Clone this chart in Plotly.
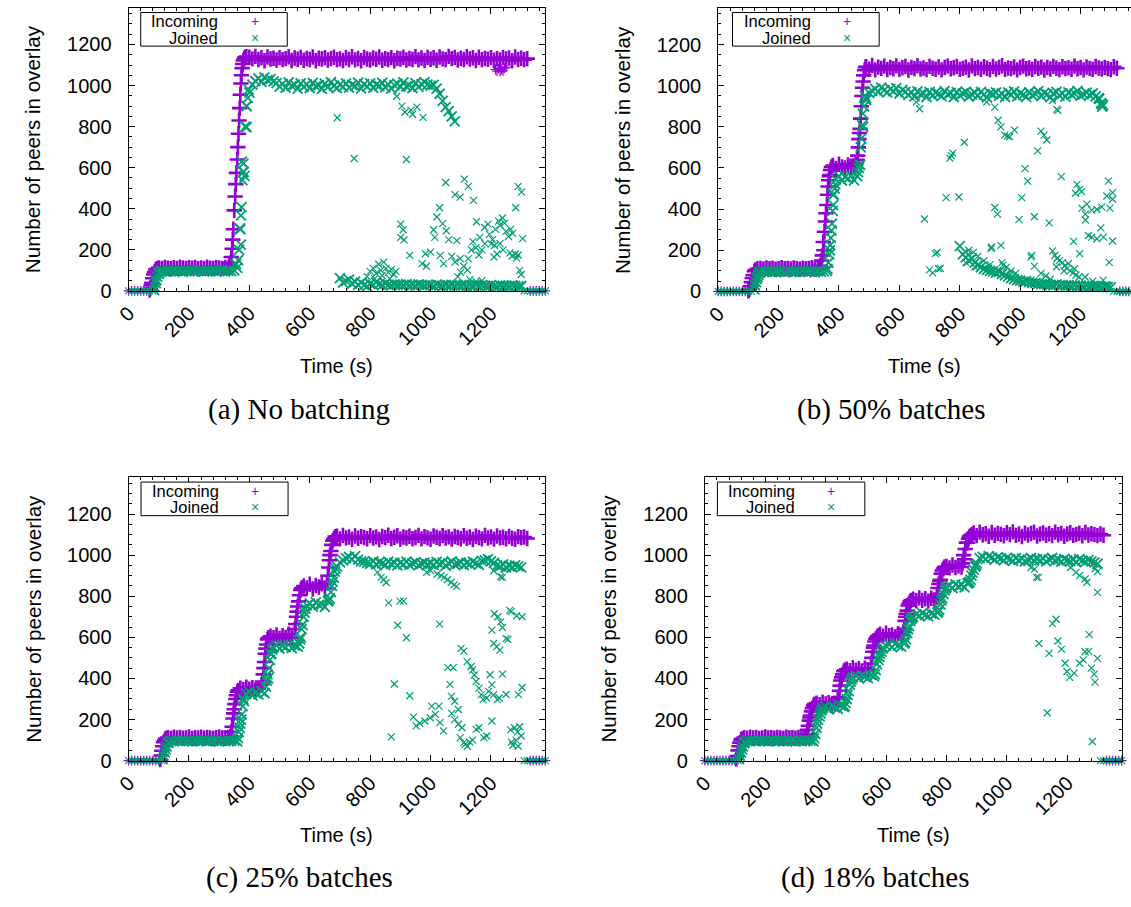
import plotly.graph_objects as go

# ---------------------------------------------------------------------------
# Sampling clock (s) of the overlay-size probes
t_grid = list(range(0, 1390, 10))

# ---------------------------- (a) No batching ------------------------------
inc_a = ([0, 0, 0, 0, 0, 0, 0, 4, 62, 104]
         + [112, 109, 114, 111, 108, 113, 110, 115, 112, 109, 113, 111, 114, 108, 112, 110,
            115, 111, 109, 113, 112, 110, 114, 111]
         + [165, 392, 640, 955, 1122, 1141]
         + [1138, 1130, 1142, 1127, 1135, 1121, 1139, 1129, 1133, 1124,
            1136, 1126, 1131, 1140, 1122, 1134, 1128, 1137, 1123, 1132,
            1127, 1139, 1121, 1133, 1129, 1136, 1124, 1131, 1138, 1126,
            1130, 1122, 1135, 1127, 1140, 1125, 1132, 1121, 1137, 1129,
            1124, 1134, 1128, 1139, 1123, 1131, 1126, 1136, 1121, 1133,
            1129, 1138, 1124, 1132, 1127, 1141, 1125, 1134, 1122, 1137,
            1128, 1135, 1123, 1139, 1130, 1126, 1142, 1131, 1137, 1124,
            1133, 1127, 1140, 1129, 1135, 1122, 1138, 1126, 1132, 1128,
            1136, 1123, 1131, 1125, 1137, 1129, 1134, 1121, 1139, 1127,
            1133, 1126, 1131]
         + [0, 0, 0, 0, 0, 0])
inc_a_ramp_t = [72, 75, 77, 83, 86, 95, 333, 336, 343, 345, 347, 353, 355, 357, 362, 364,
                366, 368, 372, 374, 376, 378, 383, 386]
inc_a_ramp_n = [14, 28, 40, 80, 92, 108, 122, 135, 205, 250, 300, 460, 520, 575, 700, 765,
                830, 890, 1010, 1050, 1085, 1105, 1132, 1138]
inc_a_scatter_t = [1215, 1220, 1225, 1230, 1235, 1240, 1245, 1250]
inc_a_scatter_n = [1078, 1070, 1082, 1068, 1076, 1072, 1085, 1090]

join_a = ([0] * 9 + [38, 84]
          + [97, 94, 99, 95, 100, 96, 98, 93, 99, 96, 101, 95, 97, 98, 94, 100, 96, 99, 95, 97,
             101, 94, 98, 96, 100]
          + [112, 300, 580, 900, 965, 1005]
          + [1022, 1035, 1018, 1040, 1026, 1031, 1020]
          + [1012, 995, 1008, 990, 1015, 998, 1004, 985, 1010, 993,
             1006, 988, 1013, 996, 1002, 984, 1009, 992, 1016, 999,
             987, 1005, 994, 1011, 990, 1003, 997, 1014, 986, 1007,
             995, 1010, 989, 1004, 998, 1013, 991, 1006, 985, 1002,
             1009, 993, 1015, 996, 1001, 988, 1012, 994, 1007, 1017]
          + [1005, 1000, 1003, 985, 960, 925, 895, 875, 850, 825]
          + [None] * 30)
join_a_low = ([None] * 70
              + [62, 40, 48, 55, 35, 45, 30, 40, 28, 22,
                 35, 30, 42, 33, 28, 36, 30, 27, 32, 29,
                 31, 28, 33, 27, 30, 26, 32, 29, 27, 30,
                 28, 25, 31, 27, 24, 29, 26, 30, 25, 28,
                 26, 30, 24, 28, 25, 29, 23, 27, 26, 24,
                 28, 25, 22, 27, 24, 26, 23, 28, 25, 22,
                 24]
              + [0] * 8)
join_a_ramp_t = [85, 88, 92, 95, 98, 104, 356, 363, 366, 369, 372, 372, 374, 375, 377, 380,
                 381, 384, 386, 391, 391, 395, 398]
join_a_ramp_n = [4, 18, 52, 70, 86, 93, 130, 150, 200, 305, 225, 368, 408, 630, 540, 620,
                 580, 560, 800, 797, 900, 940, 980]
join_a_scatter_t = [691, 747, 920, 888, 905, 915, 935, 940, 955, 975,
                    1050, 1112, 1125, 1081, 1098, 1142, 1290, 1301, 1282, 1030, 1021, 1040,
                    1010, 1052, 901, 909, 901, 912, 1014, 1060, 931, 983, 1000, 972, 986,
                    1032, 1043, 1070, 1081, 1098, 1125, 1122, 1087, 1152, 1179, 1190, 1163,
                    1201, 1212, 1195, 1205, 1215, 1225, 1230, 1238, 1245, 1250, 1258, 1265,
                    1272, 1280, 1285, 1290, 1295, 1300, 1305, 1270, 1263, 1230, 1240, 1220,
                    1210, 1180, 1170, 1160, 1150, 1140, 1135, 1110, 1100, 1090, 1130, 1150,
                    1170, 800, 810, 820, 828, 835, 845, 852, 860, 870, 878, 790, 815, 840,
                    865, 885]
join_a_scatter_n = [843, 645, 640, 948, 900, 870, 880, 860, 895, 845,
                    528, 544, 509, 469, 457, 441, 509, 481, 405, 405, 360, 328,
                    298, 293, 325, 298, 261, 248, 261, 250, 173, 181, 189, 133, 120,
                    173, 133, 168, 141, 157, 157, 101, 245, 337, 309, 325, 261,
                    229, 221, 275, 250, 300, 340, 320, 355, 330, 290, 265, 300,
                    280, 180, 160, 175, 100, 80, 255, 170, 185, 230, 200, 180,
                    165, 230, 200, 175, 210, 240, 200, 120, 90, 70, 55, 45,
                    50, 95, 110, 85, 130, 100, 140, 110, 90, 105, 80, 70, 60, 75,
                    60, 95]

# ---------------------------- (b) 50% batches ------------------------------
inc_b = ([0] * 10 + [3, 45, 98, 110]
         + [112, 109, 114, 110, 113, 108, 111, 115, 110, 112, 109, 114, 111, 108, 113, 110,
            112, 115, 109, 111, 113]
         + [200, 420, 565]
         + [612, 598, 618, 605, 600, 615, 603, 610]
         + [640, 790, 1020]
         + [1092, 1080, 1098, 1077, 1090, 1084, 1095, 1078, 1088, 1082,
            1096, 1079, 1087, 1093, 1076, 1089, 1083, 1097, 1081, 1086,
            1078, 1094, 1085, 1080, 1091, 1077, 1088, 1095, 1082, 1087,
            1093, 1079, 1084, 1090, 1076, 1096, 1083, 1088, 1080, 1092,
            1085, 1078, 1094, 1081, 1089, 1097, 1079, 1086, 1083, 1091,
            1077, 1088, 1095, 1082, 1086, 1079, 1093, 1084, 1090, 1076,
            1089, 1081, 1094, 1085, 1078, 1092, 1083, 1087, 1080, 1095,
            1082, 1088, 1077, 1091, 1084, 1079, 1093, 1086, 1081, 1089,
            1083, 1078, 1092, 1085]
         + [0] * 6)
inc_b_ramp_t = [103, 106, 113, 116, 123, 338, 342, 345, 348, 352, 355, 357, 362, 364, 366,
                368, 372, 375, 455, 458, 462, 464, 466, 468, 472, 474, 476, 478, 482, 485, 488]
inc_b_ramp_n = [10, 25, 65, 80, 104, 125, 150, 175, 240, 290, 340, 380, 470, 510, 540,
                560, 590, 605, 615, 625, 660, 700, 740, 770, 840, 900, 950, 990, 1050, 1075,
                1090]
inc_b_scatter_t = []
inc_b_scatter_n = []

join_b = ([0] * 12 + [10, 70, 94]
          + [97, 95, 99, 94, 98, 96, 100, 93, 97, 99, 95, 98, 94, 100, 96, 97, 99, 93, 98, 95, 97]
          + [100, 200, 470]
          + [545, 560, 538, 555, 548, 562, 540]
          + [560, 615, 800, 930]
          + [965, 975, 985, 970, 990, 978, 968, 985, 972, 988, 962, 980, 970]
          + [955, 968, 948, 972, 958, 963, 945, 970, 952, 966,
             960, 949, 973, 957, 965, 944, 969, 953, 962, 971,
             947, 958, 966, 951, 970, 956, 943, 964, 959, 968,
             950, 961, 945, 967, 955, 972, 948, 963, 957, 946,
             969, 954, 960, 973, 949, 965, 958, 944, 962, 970,
             952, 963, 947, 968, 956, 961, 975, 950, 958, 966,
             955, 962, 948]
          + [940, 910]
          + [None] * 11)
join_b_low = ([None] * 80
              + [220, 180, 165, 150, 160, 140, 128, 118, 110, 105,
                 100, 98, 92, 95, 85, 78, 72, 65, 60, 55,
                 52, 48, 50, 45, 42, 40, 38, 35, 36, 33,
                 32, 30, 34, 29, 31, 28, 30, 27, 29, 26,
                 28, 25, 27, 24, 26, 23, 25, 22, 24, 21,
                 20]
              + [0] * 8)
join_b_ramp_t = [122, 125, 128, 133, 136, 362, 365, 368, 371, 373, 375, 377, 379, 381, 383,
                 386, 388, 463, 466, 468, 472, 474, 477, 479, 483, 486, 490,
                 1262, 1268, 1272, 1275]
join_b_ramp_n = [30, 45, 60, 80, 90, 110, 140, 180, 225, 260, 296, 330, 392, 420, 472,
                 500, 520, 580, 600, 616, 700, 744, 808, 864, 900, 952, 940,
                 936, 915, 898, 905]
join_b_scatter_t = [656, 667, 683, 700, 710, 719, 725, 730, 736, 755, 797, 767, 772, 777, 815,
                    889, 916, 927, 936, 949, 958, 965, 981, 1107, 1121, 1125, 1069, 1079, 1088,
                    1058, 1016, 1025, 1136, 1005, 996, 1047, 1096, 916, 925, 905, 936, 1036,
                    1038, 1047, 943, 1069, 1188, 1197, 1183, 1203, 1292, 1287, 1306, 1306, 1205,
                    1221, 1216, 1216, 1237, 1254, 1270, 1297, 1226, 1237, 1254, 1267, 1276,
                    1306, 1295, 1177, 1197, 1107, 1115, 1122, 1130, 1140, 1148, 1155, 1165,
                    1175, 1185, 1195, 1120, 1145, 1160, 1180, 1100, 1085, 904, 940, 955, 970,
                    985, 900, 880, 860, 845, 850, 830, 820, 1275, 1240, 1215, 1250, 1290]
join_b_scatter_n = [920, 888, 352, 105, 90, 184, 189, 110, 112, 456, 459, 648, 660, 672, 725,
                    920, 896, 832, 800, 760, 755, 752, 784, 928, 885, 880, 779, 760, 736,
                    683, 597, 536, 558, 456, 349, 363, 333, 408, 376, 216, 224, 168,
                    175, 123, 128, 88, 520, 496, 477, 485, 536, 464, 480, 448, 405,
                    424, 376, 347, 395, 398, 411, 405, 272, 264, 256, 309, 264,
                    245, 141, 243, 184, 197, 175, 160, 150, 140, 125, 112, 100,
                    90, 80, 70, 120, 100, 135, 110, 60, 75, 208, 140, 118, 100,
                    88, 130, 150, 170, 190, 120, 200, 140, 55, 50, 70, 35, 30]

# ---------------------------- (c) 25% batches ------------------------------
inc_c = ([0] * 11 + [48, 100]
         + [112, 108, 114, 110, 113, 109, 111, 115, 108, 112, 110, 114, 109, 113, 111, 108,
            112, 115, 110, 109, 113]
         + [140, 250, 335]
         + [352, 345, 358, 348, 355, 343, 350]
         + [370, 480, 590]
         + [605, 598, 612, 595, 608, 600, 615, 597]
         + [640, 750, 830]
         + [850, 840, 858, 835, 852, 845, 860, 838]
         + [900, 1020, 1080]
         + [1092, 1079, 1096, 1084, 1088, 1077, 1093, 1082, 1090, 1086,
            1080, 1095, 1083, 1089, 1076, 1091, 1085, 1097, 1081, 1087,
            1094, 1078, 1088, 1083, 1092, 1080, 1086, 1096, 1079, 1090,
            1084, 1077, 1093, 1087, 1081, 1095, 1083, 1089, 1078, 1091,
            1086, 1080, 1094, 1082, 1088, 1076, 1092, 1085, 1079, 1096,
            1083, 1089, 1078, 1093, 1084, 1087, 1080, 1091, 1082, 1077,
            1090, 1085, 1088, 1081]
         + [0] * 6)
inc_c_ramp_t = [105, 108, 113, 116, 123, 337, 343, 346, 348, 352, 355, 357, 363, 443, 446,
                448, 453, 455, 457, 463, 553, 556, 558, 563, 566, 573, 657, 663, 665, 667,
                673, 676, 684]
inc_c_ramp_n = [5, 25, 70, 90, 108, 118, 165, 205, 230, 275, 300, 318, 342, 385, 420,
                450, 520, 545, 565, 598, 665, 700, 725, 775, 805, 840, 870, 940, 975, 1000,
                1050, 1070, 1090]
inc_c_scatter_t = []
inc_c_scatter_n = []

join_c = ([0] * 12 + [40, 85]
          + [97, 94, 99, 95, 100, 96, 98, 93, 99, 95, 97, 100, 94, 98, 96, 99, 93, 97, 95, 100,
             96, 98, 94]
          + [180, 300]
          + [325, 335, 318, 330, 322, 338, 328]
          + [420, 520]
          + [550, 562, 545, 558, 552, 565, 548, 560, 555]
          + [600, 700]
          + [755, 765, 750, 770, 758, 762, 748, 775]
          + [820, 890, 945]
          + [965, 975, 985, 992, 980, 995, 978, 970, 968, 962,
             958, 970, 955, 965, 960, 952, 968, 957, 963, 950,
             962, 955, 968, 953, 960, 966, 950, 958, 964, 955,
             961, 952, 967, 957, 963, 949, 960, 969, 954, 958,
             965, 951, 962, 956, 968, 960, 953, 972, 975, 980,
             970, 962, 950, 945, 955, 940, 948, 942, 950, 945]
          + [940]
          + [0] * 8)
join_c_ramp_t = [113, 116, 123, 126, 133, 362, 365, 368, 372, 375, 378, 382, 455, 458, 462,
                 465, 468, 473, 476, 565, 568, 573, 576, 583, 586, 663, 666, 673, 676, 683,
                 686]
join_c_ramp_n = [8, 25, 55, 70, 90, 110, 140, 160, 200, 225, 265, 290, 360, 390, 400,
                 450, 490, 520, 540, 570, 590, 640, 660, 720, 740, 780, 790, 850, 870, 920,
                 935]
join_c_scatter_t = [824, 836, 853, 845, 987, 1000, 1022, 1035, 1045, 1056, 1068, 1078, 1086,
                    1209, 1238, 1232, 1245,
                    861, 899, 911, 891, 920, 880, 870, 931, 943, 952, 964, 981, 999, 1016,
                    1028, 1004, 1031, 1043, 1030, 1057, 1075, 1064, 1069, 1080, 1092, 1101,
                    1110, 1092, 1104, 1098, 1110, 1122, 1139, 1121, 1134, 1139, 1145, 1151,
                    1160, 1168, 1174, 1186, 1192, 1160, 1151, 1176, 1186, 1197, 1203, 1209,
                    1221, 1203, 1203, 1211, 1223, 1232, 1238, 1209, 1219, 1229, 1238, 1250,
                    1256, 1227, 1250, 1262, 1267, 1285, 1303, 1265, 1268, 1272, 1278, 1283,
                    1288, 1295, 1290, 1300, 1291, 1303, 1070, 1080, 1115, 1130]
join_c_scatter_n = [916, 892, 867, 880, 916, 925, 908, 900, 892, 880, 868, 855, 848,
                    924, 892, 895, 930,
                    768, 776, 776, 659, 598, 373, 116, 316, 212, 169, 182, 193, 209, 225,
                    265, 265, 185, 145, 664, 453, 453, 371, 313, 289, 249, 546,
                    533, 177, 160, 112, 88, 70, 100, 482, 458, 442, 417, 385,
                    353, 321, 297, 305, 337, 160, 152, 112, 120, 418, 370, 321,
                    297, 193, 635, 715, 700, 675, 648, 570, 555, 538, 421, 594,
                    590, 305, 322, 731, 725, 705, 700, 150, 90, 75, 160, 100,
                    140, 165, 70, 120, 321, 356, 230, 200, 80, 90]

# ---------------------------- (d) 18% batches ------------------------------
inc_d = ([0] * 11 + [50, 102]
         + [112, 109, 114, 110, 113, 108, 111, 115, 110, 112, 109, 113, 111, 108, 114, 110,
            112, 109, 113, 111, 110]
         + [150, 220, 268]
         + [280, 272, 285, 276, 282, 270, 278]
         + [300, 390, 435]
         + [445, 438, 452, 440, 448, 436, 450, 442]
         + [470, 560, 600]
         + [615, 605, 620, 608, 612, 602, 618, 610]
         + [640, 730, 775]
         + [785, 778, 792, 780, 788, 776, 790, 782]
         + [810, 880, 935]
         + [945, 938, 952, 940, 948, 942]
         + [980, 1060, 1095]
         + [1108, 1095, 1112, 1099, 1104, 1092, 1110, 1097, 1106, 1101,
            1094, 1109, 1100, 1113, 1096, 1103, 1091, 1107, 1098, 1105,
            1111, 1093, 1102, 1108, 1097, 1104, 1095, 1112, 1099, 1106,
            1092, 1103, 1109, 1096, 1101, 1107, 1094, 1110, 1098, 1104,
            1100, 1095, 1103, 1097]
         + [0] * 6)
inc_d_ramp_t = [104, 107, 113, 116, 123, 335, 338, 343, 346, 348, 353, 356, 363, 443, 446,
                448, 453, 456, 463, 553, 556, 558, 563, 566, 573, 657, 663, 665, 667, 673,
                676, 683, 768, 772, 775, 778, 783, 786, 794, 853, 857, 862, 866, 873, 876,
                884]
inc_d_ramp_n = [8, 22, 70, 88, 106, 118, 128, 170, 195, 210, 240, 255, 275, 310, 340,
                365, 405, 420, 440, 500, 530, 550, 580, 592, 608, 625, 680, 700, 715, 755,
                765, 780, 800, 840, 860, 875, 910, 925, 942, 960, 1000, 1030, 1060, 1080,
                1090, 1100]
inc_d_scatter_t = []
inc_d_scatter_n = []

join_d = ([0] * 12 + [40, 85]
          + [97, 94, 99, 95, 100, 96, 98, 93, 99, 95, 97, 100, 94, 98, 96, 99, 93, 97, 95, 100,
             96, 98, 94]
          + [160, 215]
          + [255, 262, 250, 265, 258, 252, 268, 260]
          + [300, 370]
          + [405, 412, 400, 415, 408, 402, 418, 410]
          + [470, 520, 550]
          + [558, 565, 552, 568, 560, 555, 570]
          + [620, 680]
          + [700, 712, 705, 718, 708, 702, 715, 710, 720]
          + [760, 810]
          + [845, 852, 840, 858, 848, 855, 843, 862]
          + [880, 930, 960]
          + [985, 992, 980, 995, 988, 978, 990, 984, 975, 987,
             980, 972, 985, 976, 983, 970, 978, 986, 974, 981,
             975, 983, 970, 979, 986, 973, 977, 969, 982, 975,
             971, 978, 966, 980, 973, 968, 976, 970, 965, 958]
          + [0] * 8)
join_d_ramp_t = [113, 116, 123, 126, 133, 362, 366, 372, 375, 383, 386, 463, 466, 473, 476,
                 483, 486, 563, 566, 575, 578, 585, 588, 663, 666, 673, 676, 683, 686, 773,
                 776, 783, 786, 795, 798, 873, 876, 883, 886, 895, 898]
join_d_ramp_n = [8, 25, 55, 70, 90, 110, 130, 180, 200, 230, 245, 265, 280, 320, 340,
                 385, 395, 420, 440, 490, 505, 530, 545, 575, 590, 640, 655, 690, 695, 725,
                 735, 780, 790, 830, 840, 865, 870, 900, 915, 945, 950]
join_d_scatter_t = [1068, 1080, 1092, 1098, 1104, 1211, 1229, 1241, 1259, 1265, 1293, 1300,
                    1300,
                    1134, 1106, 1140, 1151, 1163, 1169, 1181, 1193, 1199, 1208, 1223, 1241,
                    1253, 1259, 1271, 1273, 1280, 1289, 1292, 1300, 1283]
join_d_scatter_n = [964, 940, 932, 892, 892, 940, 916, 900, 884, 868, 935, 920,
                    819,
                    233, 570, 522, 667, 688, 582, 543, 474, 434, 405, 426, 474,
                    490, 530, 532, 613, 450, 421, 382, 498, 93]

for seq in (inc_a, join_a, join_a_low, inc_b, join_b, join_b_low, inc_c, join_c, inc_d, join_d):
    assert len(seq) == len(t_grid), len(seq)

# ---------------------------------------------------------------------------
W, H = 1131, 907
PURPLE = "#9400D3"
GREEN = "#009E73"
SANS = "Liberation Sans, Arial, sans-serif"
SERIF = "Liberation Serif, Times New Roman, serif"

# frame of each panel in page pixels: left, right, top, bottom
panels = [
    dict(label="(a) No batching", frame=(116, 538, 8, 294.5), xmax=1380,
         inc=(inc_a, inc_a_ramp_t, inc_a_ramp_n, inc_a_scatter_t, inc_a_scatter_n),
         join=([join_a, join_a_low], join_a_ramp_t, join_a_ramp_n,
               join_a_scatter_t, join_a_scatter_n),
         ytitle_x=19, xtitle_y=370, cap=(289, 415), legend=(128.3, 276.7, 209, 244),
         mirror_y=True),
    dict(label="(b) 50% batches", frame=(713, 1131, 8, 295), xmax=1367,
         inc=(inc_b, inc_b_ramp_t, inc_b_ramp_n, inc_b_scatter_t, inc_b_scatter_n),
         join=([join_b, join_b_low], join_b_ramp_t, join_b_ramp_n,
               join_b_scatter_t, join_b_scatter_n),
         ytitle_x=616, xtitle_y=370, cap=(888, 415), legend=(727.5, 876, 808.7, 843),
         mirror_y=False),
    dict(label="(c) 25% batches", frame=(116, 538, 483.3, 770), xmax=1380,
         inc=(inc_c, inc_c_ramp_t, inc_c_ramp_n, inc_c_scatter_t, inc_c_scatter_n),
         join=([join_c], join_c_ramp_t, join_c_ramp_n, join_c_scatter_t, join_c_scatter_n),
         ytitle_x=19, xtitle_y=845, cap=(289, 888), legend=(128.6, 277.5, 209.6, 244),
         mirror_y=True),
    dict(label="(d) 18% batches", frame=(699.5, 1121.5, 483.3, 770), xmax=1380,
         inc=(inc_d, inc_d_ramp_t, inc_d_ramp_n, inc_d_scatter_t, inc_d_scatter_n),
         join=([join_d], join_d_ramp_t, join_d_ramp_n, join_d_scatter_t, join_d_scatter_n),
         ytitle_x=602, xtitle_y=845, cap=(872, 888), legend=(712.2, 861.5, 793, 827.7),
         mirror_y=True),
]

YMAX = 1378
fig = go.Figure()
annotations = []
shapes = []

# dense runs of samples form solid bands; idle (zero) samples and isolated samples
# keep the plain, smaller glyph
inc_band = dict(symbol="cross-thin", size=11, color=PURPLE, line=dict(color=PURPLE, width=2.6))
inc_single = dict(symbol="cross-thin", size=7, color=PURPLE, line=dict(color=PURPLE, width=1.2))
join_band = dict(symbol="x-thin", size=10, color=GREEN, line=dict(color=GREEN, width=1.8))
join_single = dict(symbol="x-thin", size=7, color=GREEN, line=dict(color=GREEN, width=1.2))


def add_series(grids, ramp_t, ramp_n, sc_t, sc_n, band, single, xa, ya, name):
    bx, by, zx, zy = [], [], [], []
    for g in grids:
        for tt, vv in zip(t_grid, g):
            if vv is None:
                continue
            if vv == 0:
                zx.append(tt)
                zy.append(vv)
            else:
                bx.append(tt)
                by.append(vv)
    common = dict(mode="markers", cliponaxis=False, showlegend=False, xaxis=xa, yaxis=ya,
                  name=name)
    fig.add_trace(go.Scatter(x=zx, y=zy, marker=single, **common))
    fig.add_trace(go.Scatter(x=bx + ramp_t, y=by + ramp_n, marker=band, **common))
    if sc_t:
        fig.add_trace(go.Scatter(x=sc_t, y=sc_n, marker=single, **common))


for i, p in enumerate(panels, start=1):
    xa = "x" if i == 1 else f"x{i}"
    ya = "y" if i == 1 else f"y{i}"
    inc, inc_rt, inc_rn, inc_st, inc_sn = p["inc"]
    joins, join_rt, join_rn, join_st, join_sn = p["join"]
    add_series([inc], inc_rt, inc_rn, inc_st, inc_sn, inc_band, inc_single, xa, ya,
               "Incoming")
    add_series(joins, join_rt, join_rn, join_st, join_sn, join_band, join_single, xa, ya,
               "Joined")

    l, r, t, b = p["frame"]
    axis_common = dict(showline=True, linecolor="black", linewidth=1, ticks="inside",
                       ticklen=6, tickcolor="black", tickwidth=1, showgrid=False,
                       zeroline=False,
                       tickfont=dict(family=SANS, size=20, color="black"))
    fig.update_layout(**{
        ("xaxis" if i == 1 else f"xaxis{i}"): dict(
            axis_common, domain=[l / W, r / W], range=[0, p["xmax"]], anchor=ya,
            tickmode="linear", tick0=0, dtick=200, tickangle=-45, mirror="allticks",
            ticklabelstandoff=2,
            minor=dict(ticks="inside", ticklen=3, tickcolor="black", dtick=40, tick0=0)),
        ("yaxis" if i == 1 else f"yaxis{i}"): dict(
            axis_common, domain=[1 - b / H, 1 - t / H], range=[0, YMAX], anchor=xa,
            tickmode="linear", tick0=0, dtick=200,
            mirror="allticks" if p["mirror_y"] else False, ticklabelstandoff=12,
            minor=dict(ticks="inside", ticklen=3, tickcolor="black", dtick=50, tick0=0)),
    })

    # axis titles
    annotations.append(dict(xref="paper", yref="paper", x=p["ytitle_x"] / W,
                            y=1 - (t + b) / 2 / H, text="Number of peers in overlay",
                            textangle=-90, showarrow=False, xanchor="center",
                            yanchor="middle",
                            font=dict(family=SANS, size=20.6, color="black")))
    annotations.append(dict(xref="paper", yref="paper", x=(l + min(r, l + 422)) / 2 / W,
                            y=1 - p["xtitle_y"] / H, text="Time (s)", showarrow=False,
                            xanchor="center", yanchor="middle",
                            font=dict(family=SANS, size=20, color="black")))
    # sub-figure caption
    annotations.append(dict(xref="paper", yref="paper", x=p["cap"][0] / W,
                            y=1 - p["cap"][1] / H, text=p["label"], showarrow=False,
                            xanchor="center", yanchor="middle",
                            font=dict(family=SERIF, size=29, color="black")))

    # key box in the upper-left corner of the panel
    kl, kr, ktext, kmark = p["legend"]
    ktop = t + 4.7
    kbot = t + 38.7
    shapes.append(dict(type="rect", xref="paper", yref="paper", x0=kl / W, x1=kr / W,
                       y0=1 - kbot / H, y1=1 - ktop / H, line=dict(color="black", width=1),
                       fillcolor="white", layer="above"))
    for row, (name, sym, col) in enumerate([("Incoming", "+", PURPLE),
                                            ("Joined", "×", GREEN)]):
        yy = ktop + 9 + row * 16.6
        annotations.append(dict(xref="paper", yref="paper", x=ktext / W, y=1 - yy / H,
                                text=name, showarrow=False, xanchor="right",
                                yanchor="middle",
                                font=dict(family=SANS, size=16.5, color="black")))
        annotations.append(dict(xref="paper", yref="paper", x=kmark / W, y=1 - yy / H,
                                text=sym, showarrow=False, xanchor="center",
                                yanchor="middle",
                                font=dict(family=SANS, size=14, color=col)))

fig.update_layout(width=W, height=H, autosize=False,
                  margin=dict(l=0, r=0, t=0, b=0),
                  paper_bgcolor="white", plot_bgcolor="white",
                  annotations=annotations, shapes=shapes, showlegend=False)

fig.write_html("out.html")
